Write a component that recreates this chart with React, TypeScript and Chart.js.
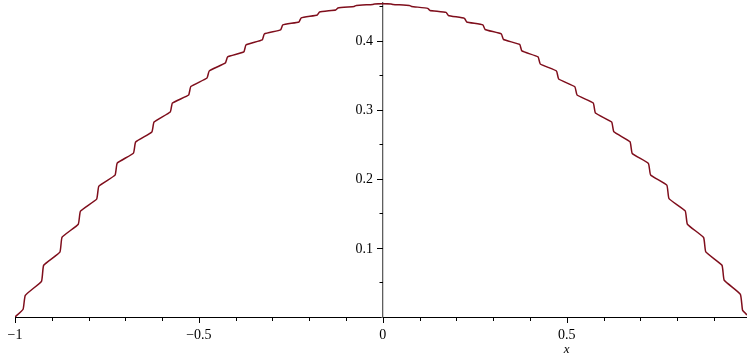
import React, { useEffect, useRef } from "react";
import { Chart, registerables } from "chart.js";

Chart.register(...registerables);

// Curve samples (point just before / just after each step)
const X_VALUES = [
  -1,
  -0.978, -0.972, -0.928, -0.922, -0.878, -0.872, -0.828, -0.822, -0.778, -0.772,
  -0.728, -0.722, -0.678, -0.672, -0.628, -0.622, -0.578, -0.572, -0.528, -0.522,
  -0.478, -0.472, -0.428, -0.422, -0.378, -0.372, -0.328, -0.322, -0.278, -0.272,
  -0.228, -0.222, -0.178, -0.172, -0.128, -0.122, -0.078, -0.072, -0.028, -0.022,
  0,
  0.022, 0.028, 0.072, 0.078, 0.122, 0.128, 0.172, 0.178, 0.222, 0.228,
  0.272, 0.278, 0.322, 0.328, 0.372, 0.378, 0.422, 0.428, 0.472, 0.478,
  0.522, 0.528, 0.572, 0.578, 0.622, 0.628, 0.672, 0.678, 0.722, 0.728,
  0.772, 0.778, 0.822, 0.828, 0.872, 0.878, 0.922, 0.928, 0.972, 0.978,
  0.99,
];
const Y_VALUES = [
  0,
  0.0112, 0.0314, 0.0517, 0.0749, 0.0938, 0.1155, 0.1343, 0.1532, 0.1706, 0.1894,
  0.2054, 0.2228, 0.2372, 0.2532, 0.2677, 0.2822, 0.2967, 0.3097, 0.3213, 0.3336,
  0.3459, 0.3561, 0.3677, 0.3764, 0.3836, 0.3938, 0.401, 0.4097, 0.4155, 0.4228,
  0.4271, 0.4329, 0.4372, 0.4416, 0.4445, 0.4474, 0.4496, 0.451, 0.4525, 0.4532,
  0.4535,
  0.4532, 0.4525, 0.451, 0.4496, 0.4467, 0.4438, 0.4409, 0.4365, 0.4322, 0.4271,
  0.4228, 0.4162, 0.4097, 0.4017, 0.3945, 0.3851, 0.3764, 0.3662, 0.3561, 0.3445,
  0.3333, 0.3213, 0.3097, 0.2952, 0.2822, 0.2681, 0.2536, 0.2368, 0.2223, 0.2054,
  0.1909, 0.1713, 0.1536, 0.1343, 0.1151, 0.0942, 0.0749, 0.0532, 0.0329, 0.0097,
  0.003,
];

const X_MAJOR_TICKS = [-1, -0.5, 0, 0.5];
const X_MINOR_TICKS = [-0.9, -0.8, -0.7, -0.6, -0.4, -0.3, -0.2, -0.1, 0.1, 0.2, 0.3, 0.4, 0.6, 0.7, 0.8, 0.9];
const Y_MAJOR_TICKS = [0.1, 0.2, 0.3, 0.4];
const Y_MINOR_TICKS = [0.05, 0.15, 0.25, 0.35, 0.45];
const X_MIN = -1;
const X_MAX = 0.99;
const Y_MIN = 0;
const Y_MAX = 0.4545;
const X_TITLE = "x";
const LINE_COLOR = "#7f0e1c";
const FONT_FAMILY = '"Liberation Serif", "Times New Roman", serif';

export default function App() {
  const ref = useRef<HTMLCanvasElement>(null);

  useEffect(() => {
    if (!ref.current) return;
    const fmt = (v: number) => (v < 0 ? "\u2212" + String(Math.abs(v)) : String(v));

    const tickPlugin = {
      id: "mapleTicks",
      afterDraw(chart: any) {
        const { ctx, chartArea } = chart;
        const xs = chart.scales.x;
        const ys = chart.scales.y;
        const bottom = chartArea.bottom;
        const axisX = Math.round(xs.getPixelForValue(0));
        ctx.save();
        ctx.lineWidth = 1;
        ctx.strokeStyle = "#000";
        const seg = (x1: number, y1: number, x2: number, y2: number) => {
          ctx.beginPath();
          ctx.moveTo(x1, y1);
          ctx.lineTo(x2, y2);
          ctx.stroke();
        };
        for (const v of X_MAJOR_TICKS) {
          const px = Math.round(xs.getPixelForValue(v)) + 0.5;
          seg(px, bottom, px, bottom + 6);
        }
        for (const v of X_MINOR_TICKS) {
          const px = Math.round(xs.getPixelForValue(v)) + 0.5;
          seg(px, bottom, px, bottom + 4);
        }
        for (const v of Y_MAJOR_TICKS) {
          const py = Math.round(ys.getPixelForValue(v)) + 0.5;
          seg(axisX, py, axisX - 6, py);
        }
        for (const v of Y_MINOR_TICKS) {
          const py = Math.round(ys.getPixelForValue(v)) + 0.5;
          seg(axisX, py, axisX - 3.5, py);
        }
        ctx.fillStyle = "#000";
        ctx.font = "14px " + FONT_FAMILY;
        ctx.textAlign = "right";
        ctx.textBaseline = "middle";
        for (const v of Y_MAJOR_TICKS) {
          ctx.fillText(fmt(v), axisX - 10, ys.getPixelForValue(v) + 1);
        }
        ctx.font = "italic 13px " + FONT_FAMILY;
        ctx.textAlign = "center";
        ctx.textBaseline = "alphabetic";
        ctx.fillText(X_TITLE, xs.getPixelForValue(0.5), bottom + 36);
        ctx.restore();
      },
    };

    const chart = new Chart(ref.current, {
      type: "line",
      data: {
        datasets: [
          {
            data: X_VALUES.map((x, i) => ({ x, y: Y_VALUES[i] })),
            borderColor: LINE_COLOR,
            borderWidth: 1.5,
            pointRadius: 0,
            fill: false,
            tension: 0.12,
          },
        ],
      },
      options: {
        responsive: false,
        animation: false,
        devicePixelRatio: 1,
        layout: { padding: { left: 15, right: 0, top: 3, bottom: 0 } },
        plugins: { legend: { display: false }, tooltip: { enabled: false } },
        scales: {
          x: {
            type: "linear",
            position: "bottom",
            min: X_MIN,
            max: X_MAX,
            afterBuildTicks: (s: any) => {
              s.ticks = X_MAJOR_TICKS.map((v) => ({ value: v }));
            },
            afterFit: (s: any) => {
              s.height = 41;
              s.paddingLeft = 0;
              s.paddingRight = 0;
              s.paddingTop = 0;
              s.paddingBottom = 0;
            },
            grid: { drawOnChartArea: false, drawTicks: true, tickLength: 6, tickColor: "transparent" },
            border: { display: true, color: "#000", width: 1 },
            ticks: {
              autoSkip: false,
              maxRotation: 0,
              padding: 4,
              color: "#000",
              font: { family: FONT_FAMILY, size: 14 },
              callback: (v: any) => fmt(Number(v)),
            },
          },
          y: {
            type: "linear",
            position: { x: 0 } as any,
            min: Y_MIN,
            max: Y_MAX,
            afterBuildTicks: (s: any) => {
              s.ticks = Y_MAJOR_TICKS.map((v) => ({ value: v }));
            },
            afterFit: (s: any) => {
              s.paddingLeft = 0;
              s.paddingRight = 0;
              s.paddingTop = 0;
              s.paddingBottom = 0;
            },
            grid: { drawOnChartArea: false, drawTicks: false },
            border: { display: true, color: "#5e5e5e", width: 1.3 },
            ticks: { display: false },
          },
        },
      },
      plugins: [tickPlugin],
    } as any);

    return () => chart.destroy();
  }, []);

  return (
    <div style={{ position: "fixed", left: 0, top: 0, width: 747, height: 358, background: "#fff" }}>
      <canvas ref={ref} width={747} height={358} style={{ display: "block" }} />
    </div>
  );
}
